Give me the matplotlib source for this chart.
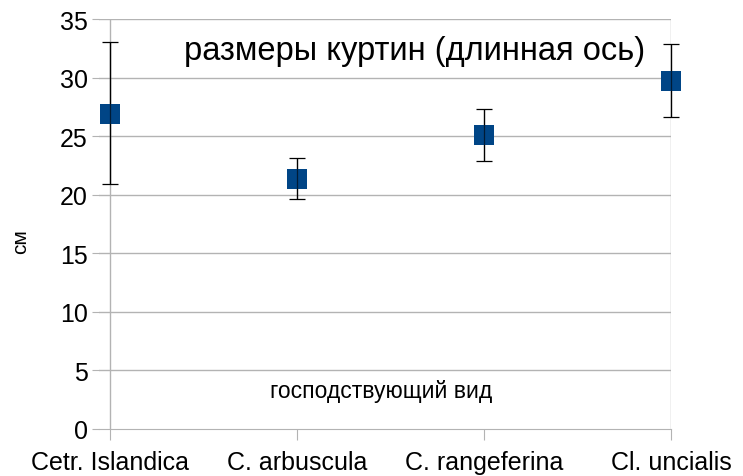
import matplotlib.pyplot as plt

plt.rcParams['font.family'] = ['Liberation Sans', 'DejaVu Sans']

species = ['Cetr. Islandica', 'C. arbuscula', 'C. rangeferina', 'Cl. uncialis']
mean_cm = [26.9, 21.3, 25.1, 29.7]
upper_cm = [33.0, 23.1, 27.3, 32.9]
lower_cm = [20.9, 19.6, 22.9, 26.6]

err_low = [m - lo for m, lo in zip(mean_cm, lower_cm)]
err_high = [hi - m for m, hi in zip(mean_cm, upper_cm)]
x = list(range(len(species)))

fig = plt.figure(figsize=(7.43, 4.77), dpi=100)
ax = fig.add_axes([99 / 743, 47 / 477, (671 - 99) / 743, (430 - 20) / 477])

grid_col = '#b3b3b3'
for y in range(5, 40, 5):
    ax.axhline(y, color=grid_col, lw=1, zorder=0)
ax.axvline(0, color=grid_col, lw=1, zorder=0)
ax.axvline(3, color=grid_col, lw=1, zorder=0)

eb = ax.errorbar(x, mean_cm, yerr=[err_low, err_high], fmt='none', ecolor='black',
                 elinewidth=0.9, capsize=5.5, capthick=0.9, zorder=2)
for art in eb.lines[1] + eb.lines[2]:
    art.set_clip_on(False)
ax.plot(x, mean_cm, 's', color='#004586', markersize=14.5, zorder=3,
        markeredgewidth=0, clip_on=False)
eb2 = ax.errorbar(x, mean_cm, yerr=[err_low, err_high], fmt='none', ecolor='black',
                  elinewidth=0.9, capsize=0, alpha=0.6, zorder=4)
for art in eb2.lines[2]:
    art.set_clip_on(False)

ax.set_xlim(-0.06, 3)
ax.set_ylim(0, 35)
ax.set_yticks(range(0, 40, 5))
ax.set_xticks(x)
ax.set_xticklabels(species)

for s in ['top', 'right', 'left']:
    ax.spines[s].set_visible(False)
ax.spines['bottom'].set_color(grid_col)
ax.tick_params(axis='x', length=8, color=grid_col, labelsize=18, pad=7)
ax.tick_params(axis='y', length=5, color=grid_col, labelsize=18, pad=3)

ax.text(1.63, 32.3, 'размеры куртин (длинная ось)', fontsize=23.5, ha='center', va='center')
ax.text(1.45, 3.3, 'господствующий вид', fontsize=16.5, ha='center', va='center')
fig.text(21 / 743, 1 - 242 / 477, 'см', fontsize=15, rotation=90, ha='center', va='center')

fig.savefig('out.png', dpi=100)
